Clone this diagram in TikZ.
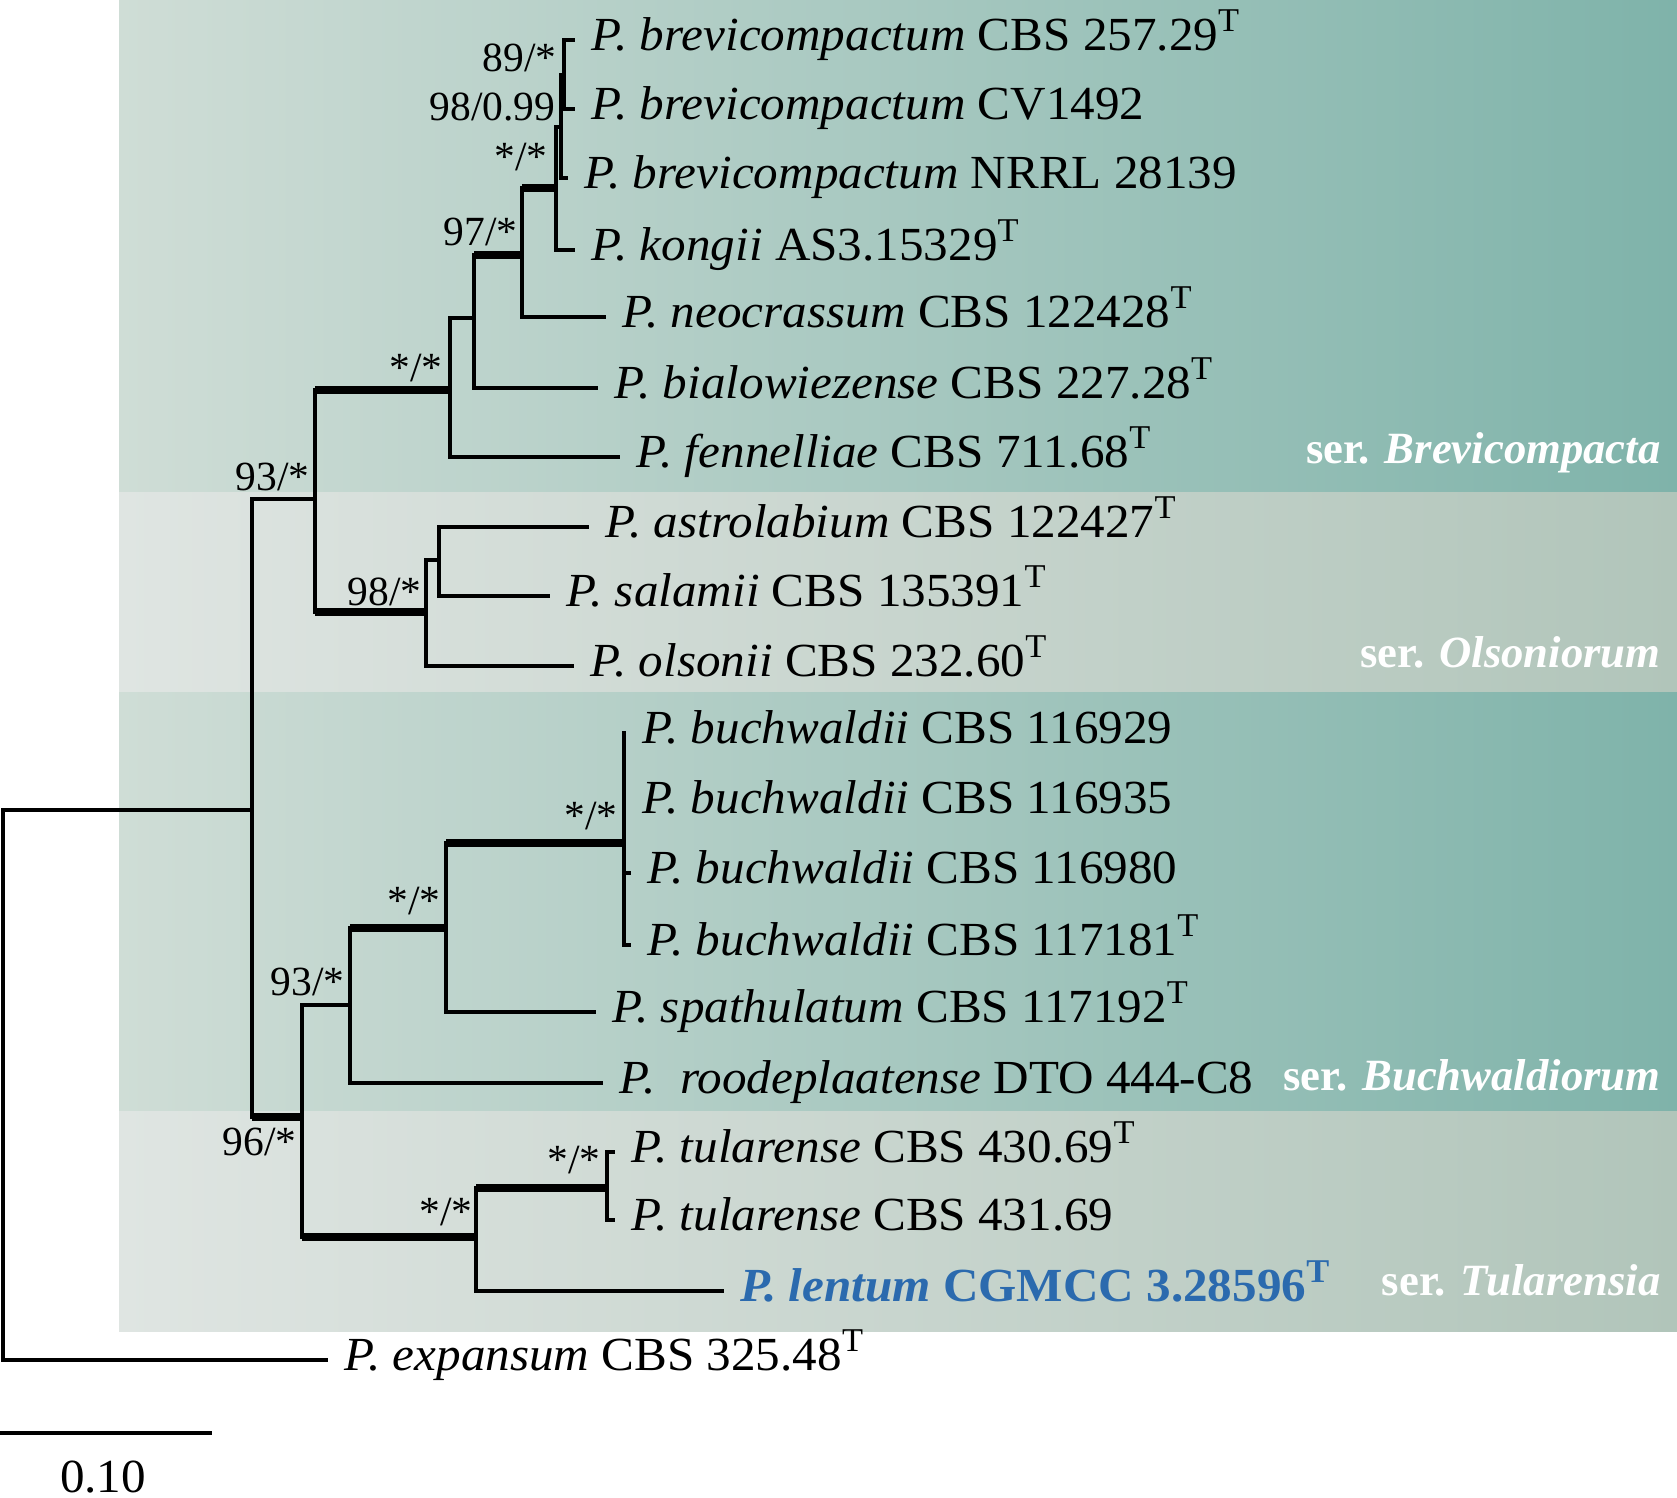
\documentclass[tikz,border=0pt]{standalone}
\usepackage{fontspec}
\setmainfont{Liberation Serif}
\newfontfamily\leaffamily{Liberation Serif}[FakeStretch=1.035]
\usepackage{tikz}

\definecolor{darkleft}{HTML}{CFDDD6}
\definecolor{darkright}{HTML}{7FB3AA}
\definecolor{lightleft}{HTML}{DFE5E2}
\definecolor{lightright}{HTML}{B1C5BA}
\definecolor{lentblue}{HTML}{2B6AAE}
\newcommand{\leaffont}{\leaffamily\fontsize{13.5pt}{16pt}\selectfont}
\newcommand{\serfont}{\fontsize{12.7pt}{15pt}\selectfont}
\newcommand{\supfont}{\fontsize{11.8pt}{14pt}\selectfont}
\newcommand{\typemark}{\textsuperscript{T}}

\begin{document}
\begin{tikzpicture}[x=0.01cm,y=-0.01cm,
  branch/.style={line width=0.95pt,line cap=rect},
  strong/.style={line width=2.3pt},
  leaf/.style={anchor=base west,inner sep=0pt,xshift=0.18cm,yshift=-0.1cm,font=\leaffont},
  support/.style={anchor=base east,inner sep=0pt,font=\supfont},
  series/.style={anchor=base east,inner sep=0pt,text=white,font=\serfont\bfseries}]
\useasboundingbox (0,0) rectangle (1677,1497);
% series bands
\fill[left color=darkleft,right color=darkright] (119,0) rectangle (1677,492);
\fill[left color=lightleft,right color=lightright] (119,492) rectangle (1677,692);
\fill[left color=darkleft,right color=darkright] (119,692) rectangle (1677,1111);
\fill[left color=lightleft,right color=lightright] (119,1111) rectangle (1677,1331);
% leaf tips
\coordinate (t1) at (573,40);
\coordinate (t2) at (573,109);
\coordinate (t3) at (566,178);
\coordinate (t4) at (573,250);
\coordinate (t5) at (604,317);
\coordinate (t6) at (596,388);
\coordinate (t7) at (618,457);
\coordinate (t8) at (587,527);
\coordinate (t9) at (548,596);
\coordinate (t10) at (572,666);
\coordinate (t11) at (624,733);
\coordinate (t12) at (624,803);
\coordinate (t13) at (629,873);
\coordinate (t14) at (629,945);
\coordinate (t15) at (594,1012);
\coordinate (t16) at (601,1083);
\coordinate (t17) at (613,1152);
\coordinate (t18) at (613,1220);
\coordinate (t19) at (722,1291);
\coordinate (t20) at (326,1360);
% inner nodes
\coordinate (R) at (3,810);
\coordinate (A) at (252,810);
\coordinate (B) at (315,499);
\coordinate (C) at (450,390);
\coordinate (D) at (474,318);
\coordinate (E) at (522,255);
\coordinate (F) at (556,188);
\coordinate (G) at (561,127);
\coordinate (H) at (564,75);
\coordinate (O) at (426,612);
\coordinate (P) at (439,560);
\coordinate (I) at (302,1117);
\coordinate (J) at (350,1005);
\coordinate (K) at (446,928);
\coordinate (L) at (624,843);
\coordinate (M) at (476,1237);
\coordinate (N) at (607,1188);
% branches
\draw[branch] (R) -- (A);
\draw[branch] (R) -- (R |- t20) -- (t20);
\draw[branch] (A |- B) -- (A |- I);
\draw[branch] (A |- B) -- (B);
\draw[strong] (A |- I) -- (I);
\draw[branch] (B |- C) -- (B |- O);
\draw[strong] (B |- C) -- (C);
\draw[strong] (B |- O) -- (O);
\draw[branch] (C |- D) -- (C |- t7);
\draw[branch] (C |- D) -- (D);
\draw[branch] (C |- t7) -- (t7);
\draw[branch] (D |- E) -- (D |- t6);
\draw[strong] (D |- E) -- (E);
\draw[branch] (D |- t6) -- (t6);
\draw[branch] (E |- F) -- (E |- t5);
\draw[strong] (E |- F) -- (F);
\draw[branch] (E |- t5) -- (t5);
\draw[branch] (F |- G) -- (F |- t4);
\draw[branch] (F |- G) -- (G);
\draw[branch] (F |- t4) -- (t4);
\draw[branch] (G |- H) -- (G |- t3);
\draw[branch] (G |- H) -- (H);
\draw[branch] (G |- t3) -- (t3);
\draw[branch] (H |- t1) -- (H |- t2);
\draw[branch] (H |- t1) -- (t1);
\draw[branch] (H |- t2) -- (t2);
\draw[branch] (O |- P) -- (O |- t10);
\draw[branch] (O |- P) -- (P);
\draw[branch] (O |- t10) -- (t10);
\draw[branch] (P |- t8) -- (P |- t9);
\draw[branch] (P |- t8) -- (t8);
\draw[branch] (P |- t9) -- (t9);
\draw[branch] (I |- J) -- (I |- M);
\draw[branch] (I |- J) -- (J);
\draw[strong] (I |- M) -- (M);
\draw[branch] (J |- K) -- (J |- t16);
\draw[strong] (J |- K) -- (K);
\draw[branch] (J |- t16) -- (t16);
\draw[branch] (K |- L) -- (K |- t15);
\draw[strong] (K |- L) -- (L);
\draw[branch] (K |- t15) -- (t15);
\draw[branch] (L |- t11) -- (L |- t14);
\draw[branch] (L |- t13) -- (t13);
\draw[branch] (L |- t14) -- (t14);
\draw[branch] (M |- N) -- (M |- t19);
\draw[strong] (M |- N) -- (N);
\draw[branch] (M |- t19) -- (t19);
\draw[branch] (N |- t17) -- (N |- t18);
\draw[branch] (N |- t17) -- (t17);
\draw[branch] (N |- t18) -- (t18);
% taxa
\node[leaf] (l1) at (t1) {\textit{P. brevicompactum} CBS 257.29\typemark};
\node[leaf] (l2) at (t2) {\textit{P. brevicompactum} CV1492};
\node[leaf] (l3) at (t3) {\textit{P. brevicompactum} NRRL 28139};
\node[leaf] (l4) at (t4) {\textit{P. kongii} AS3.15329\typemark};
\node[leaf] (l5) at (t5) {\textit{P. neocrassum} CBS 122428\typemark};
\node[leaf] (l6) at (t6) {\textit{P. bialowiezense} CBS 227.28\typemark};
\node[leaf] (l7) at (t7) {\textit{P. fennelliae} CBS 711.68\typemark};
\node[leaf] (l8) at (t8) {\textit{P. astrolabium} CBS 122427\typemark};
\node[leaf] (l9) at (t9) {\textit{P. salamii} CBS 135391\typemark};
\node[leaf] (l10) at (t10) {\textit{P. olsonii} CBS 232.60\typemark};
\node[leaf] (l11) at (t11) {\textit{P. buchwaldii} CBS 116929};
\node[leaf] (l12) at (t12) {\textit{P. buchwaldii} CBS 116935};
\node[leaf] (l13) at (t13) {\textit{P. buchwaldii} CBS 116980};
\node[leaf] (l14) at (t14) {\textit{P. buchwaldii} CBS 117181\typemark};
\node[leaf] (l15) at (t15) {\textit{P. spathulatum} CBS 117192\typemark};
\node[leaf] (l16) at (t16) {\textit{P.\ \ roodeplaatense} DTO 444-C8};
\node[leaf] (l17) at (t17) {\textit{P. tularense} CBS 430.69\typemark};
\node[leaf] (l18) at (t18) {\textit{P. tularense} CBS 431.69};
\node[leaf,text=lentblue,font=\leaffont\bfseries] (l19) at (t19) {\textit{P. lentum} CGMCC 3.28596\typemark};
\node[leaf] (l20) at (t20) {\textit{P. expansum} CBS 325.48\typemark};
% support values
\node[support] (s1) at (557,72) {89/*};
\node[support] (s2) at (556,121) {98/0.99};
\node[support] (s3) at (548,170) {*/*};
\node[support] (s4) at (518,245) {97/*};
\node[support] (s5) at (443,381) {*/*};
\node[support] (s6) at (310,490) {93/*};
\node[support] (s7) at (422,605) {98/*};
\node[support] (s8) at (618,829) {*/*};
\node[support] (s9) at (441,914) {*/*};
\node[support] (s10) at (345,995) {93/*};
\node[support] (s11) at (297,1155) {96/*};
\node[support] (s12) at (473,1225) {*/*};
\node[support] (s13) at (601,1173) {*/*};
% series names
\node[series] (brev) at (1661,463) {ser. \textit{Brevicompacta}};
\node[series] (olso) at (1661,667) {ser. \textit{Olsoniorum}};
\node[series] (buch) at (1661,1090) {ser. \textit{Buchwaldiorum}};
\node[series] (tula) at (1661,1295) {ser. \textit{Tularensia}};
% scale bar
\coordinate (bar0) at (0,1433);
\coordinate (bar1) at (212,1433);
\draw[line width=1.1pt] (bar0) -- (bar1);
\node[font=\leaffont,anchor=base,inner sep=0pt] (barlabel) at (103,1492) {0.10};
\end{tikzpicture}
\end{document}
